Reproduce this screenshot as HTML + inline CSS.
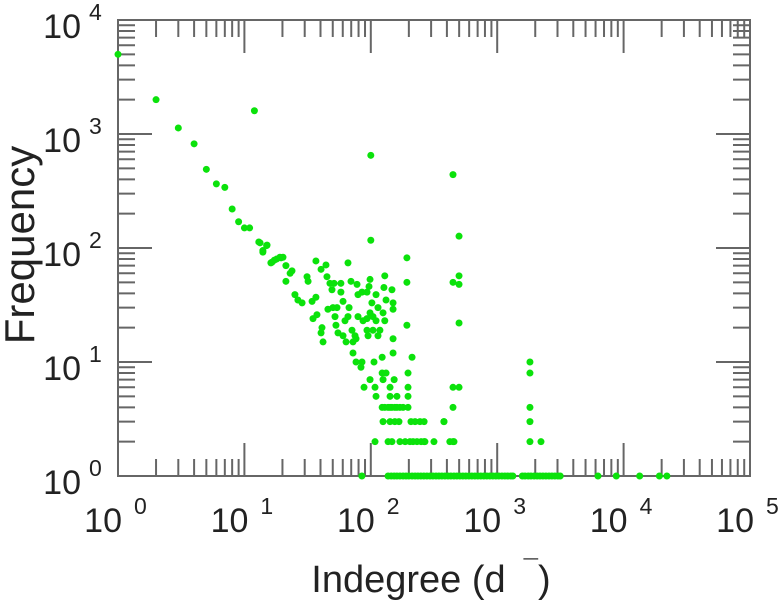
<!DOCTYPE html>
<html><head><meta charset="utf-8"><style>
html,body{margin:0;padding:0;background:#fff;}
svg{display:block;font-family:"Liberation Sans",sans-serif;}
</style></head><body>
<svg id="chart" width="778" height="600" viewBox="0 0 778 600" xmlns="http://www.w3.org/2000/svg">
<g id="axes"></g>
<g id="points"></g>
<g id="labels"></g>
<text x="431" y="592" font-size="38" fill="#222" text-anchor="middle">Indegree (d<tspan dx="18" dy="-14" font-size="26">¯</tspan><tspan dy="14">)</tspan></text>
<text transform="translate(34,245) rotate(-90)" font-size="42" fill="#222" text-anchor="middle">Frequency</text>
</svg>
<script>
const xTickExps = [0,1,2,3,4,5];
const yTickExps = [0,1,2,3,4];
const earlyX = [1,2,3,4,5,6,7,8,9,10,11,12,13,14,15,16.5,18,19.5];
const earlyY = [5000,2000,1130,820,490,365,340,220,170,150,150,1600,113,95,105,75,80,82];
const cloudX = [13.3,15.1,14,16.2,17.2,19.1,20.2,21.3,36.8,44.2,40.4,23.8,23,21.3,31.3,31.9,66,45,47.5,51.2,49.3,58,58,69.7,77.8,98.6,129,147,127,96.8,85.2,93.3,79.2,110,25.1,26.5,28.6,34.3,36.8,132,150,150,60.3,67.3,45.8,50.2,54,102,114,125,98.6,104,93.3,79.2,86.8,110,129,52.1,62.5,66,34.9,37.5,41.1,40.4,53,55,60.3,71,75,76.4,93.3,95.1,104,114,118,150,41.9,63.7,72.3,72.3,150,193,193,193,212,76.4,85.2,83.6,123,106,123,132,197,125,153,98.6,88.4,108,142,197,110,142,161,197,100,100];
const cloudY = [111,106,92,74,78,83,83,70,77,71,65,63,60,51,56,51,74,56,49,49,43,49,41,51,48,53,57,43,45,46,41,41,39,39,39,35,33,34,37,35,33,29,34,30,29,30,30,33,30,27,27,25,24,25,23,23,23,25,23,25,24,26,20,18,21,18,17,19,17,16,19,17,19,17,19,16,15,15,15,12,12,82,50,21,11,10,10,9,11,10,8,8,8,7,7,7,6,6,6,6,5,5,5,5,650,117];
const rowsX = [123,129,137,142,147,155,161,170,180,197, 125,142,155,167,208,224,245,379, 108,137,147,170,187,204,216,232,250,268,316,455];
const rowsY = [4,4,4,4,4,4,4,4,4,4, 3,3,3,3,3,3,3,3, 2,2,2,2,2,2,2,2,2,2,2,2];
const rightX = [447,499,447,499,499,499,447,499,447,379,264,264,422,447,1816,1816,1816,1816,1816,2220];
const rightY = [440,127,50,57,48,22,6,6,4,3,3,2,2,2,10,8,4,3,2,2];
const onesX = [85,137,145,153,161,170,180,190,200,212,224,236,249,263,278,294,310,328,346,365,386,408,430,455,480,507,535,565,597,630,666,703,742,784,828,875,924,976,1030,1090,1150,1210,1280,1330,1580,1660,1760,1850,1960,2070,2180,2300,2430,2570,2710,2860,3020,3150,6270,8750,13400,19200,22000];

const L=118,R=750,T=20,B=476;
const xs = v => L + Math.log10(v)/5*(R-L);
const ys = v => B - Math.log10(v)/4*(B-T);
const NS="http://www.w3.org/2000/svg";
function mk(tag, attrs, parent){const e=document.createElementNS(NS,tag);for(const k in attrs)e.setAttribute(k,attrs[k]);parent.appendChild(e);return e;}
const axes=document.getElementById('axes');
const frame=mk('rect',{x:L,y:T,width:R-L,height:B-T,fill:'none',stroke:'#666','stroke-width':2},axes);


function tick(x1,y1,x2,y2){const t=mk('line',{x1,y1,x2,y2,stroke:'#666','stroke-width':2},axes);

}
for(let e=0;e<5;e++){for(let m=1;m<10;m++){const x=xs(m*Math.pow(10,e));const len=m===1?33:17;
 if(m===1&&e===0)continue; tick(x,B,x,B-len);tick(x,T,x,T+len);}}
for(let e=0;e<4;e++){for(let m=1;m<10;m++){const y=ys(m*Math.pow(10,e));const len=m===1?34:17;
 if(m===1&&e===0)continue; tick(L,y,L+len,y);tick(R,y,R-len,y);}}
const pts=document.getElementById('points');
function dots(X,Y,name){for(let i=0;i<X.length;i++){const c=mk('circle',{cx:xs(X[i]),cy:ys(Y[i]),r:3.5,fill:'#0be20b'},pts);

}}
dots(earlyX,earlyY,'point-low-degree');
dots(cloudX,cloudY,'point-cloud');
dots(rowsX,rowsY,'point-small-frequency');
dots(rightX,rightY,'point-high-degree');
dots(onesX,onesX.map(()=>1),'point-frequency-one');
const lab=document.getElementById('labels');
xTickExps.forEach(e=>{const x=xs(Math.pow(10,e));
 const g=mk('text',{x:x+4,y:532,'font-size':34,fill:'#222','text-anchor':'end'},lab);
 
 
 g.textContent='10';
 const s=mk('text',{x:x+16,y:514,'font-size':23,fill:'#222'},lab);
 
 
 s.textContent=String(e);});
yTickExps.forEach(e=>{const y=ys(Math.pow(10,e));
 const g=mk('text',{x:81,y:y+18,'font-size':34,fill:'#222','text-anchor':'end'},lab);
 
 
 g.textContent='10';
 const s=mk('text',{x:89,y:y,'font-size':23,fill:'#222'},lab);
 
 
 s.textContent=String(e);});
</script>
</body></html>
